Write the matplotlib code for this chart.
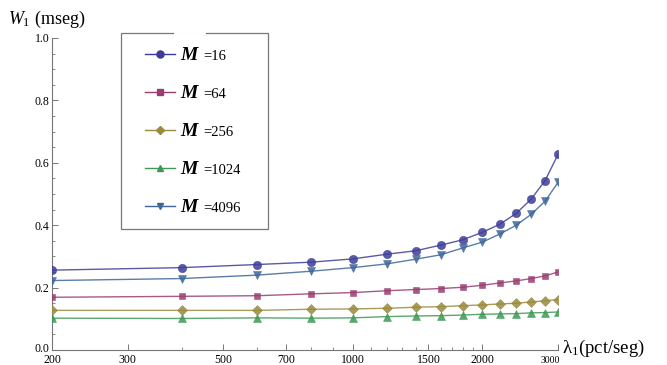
import matplotlib
matplotlib.use("Agg")
import matplotlib.pyplot as plt
import matplotlib.transforms as mtransforms
from matplotlib.lines import Line2D
from matplotlib.patches import Rectangle
from matplotlib.ticker import FixedLocator, NullFormatter

plt.rcParams["font.family"] = ["Liberation Serif", "DejaVu Serif"]
plt.rcParams["mathtext.fontset"] = "custom"
plt.rcParams["mathtext.rm"] = "Liberation Serif"
plt.rcParams["mathtext.it"] = "Liberation Serif:italic"
plt.rcParams["mathtext.bf"] = "Liberation Serif:bold"

# arrival rate (pct/seg)
lam = [200, 400, 600, 800, 1000, 1200, 1400, 1600, 1800, 2000,
       2200, 2400, 2600, 2800, 3000]

# mean waiting time W1 (mseg) for each buffer size M
w_m16 = [0.256, 0.264, 0.274, 0.2815, 0.292, 0.307, 0.318, 0.336, 0.353,
         0.377, 0.4035, 0.438, 0.484, 0.543, 0.627]
w_m64 = [0.169, 0.172, 0.174, 0.180, 0.184, 0.190, 0.1937, 0.197, 0.201,
         0.2076, 0.215, 0.2215, 0.229, 0.2376, 0.250]
w_m256 = [0.127, 0.127, 0.127, 0.1306, 0.1316, 0.1338, 0.137, 0.139, 0.142,
          0.1445, 0.1477, 0.150, 0.154, 0.158, 0.1615]
w_m1024 = [0.102, 0.101, 0.103, 0.102, 0.103, 0.107, 0.109, 0.110, 0.112,
           0.1145, 0.1156, 0.1166, 0.119, 0.120, 0.122]
w_m4096 = [0.2226, 0.229, 0.240, 0.2525, 0.264, 0.276, 0.291, 0.305, 0.327,
           0.3456, 0.372, 0.400, 0.435, 0.477, 0.537]

labels = ["16", "64", "256", "1024", "4096"]

x_major = [200, 300, 500, 700, 1000, 1500, 2000, 3000]
x_minor = [400, 600, 800, 900, 1100, 1200, 1300, 1400, 1600, 1700, 1800, 1900]
y_major = [0.0, 0.2, 0.4, 0.6, 0.8, 1.0]

series = [w_m16, w_m64, w_m256, w_m1024, w_m4096]
colors = ["#3d3d99", "#993d71", "#998b3d", "#3d9954", "#3d6699"]
markers = ["o", "s", "D", "^", "v"]
msizes = [6.0, 5.0, 4.6, 5.2, 5.2]

W, H = 667, 365
fig = plt.figure(figsize=(W / 100, H / 100), dpi=100)
ax = fig.add_axes([52 / W, (H - 350) / H, 506 / W, 312 / H])

for ys, c, m, ms in zip(series, colors, markers, msizes):
    ax.plot(lam, ys, color=c, lw=1.0, alpha=0.85, marker=m, ms=ms,
            markerfacecolor=c, markeredgecolor=c, markeredgewidth=0.4,
            clip_on=True, zorder=3)

ax.set_xscale("log")
ax.set_xlim(200, 3000)
ax.set_ylim(0, 1)

ax.xaxis.set_major_locator(FixedLocator(x_major))
ax.xaxis.set_minor_locator(FixedLocator(x_minor))
ax.xaxis.set_minor_formatter(NullFormatter())
ax.set_xticklabels([str(v) for v in x_major])
ax.set_yticks(y_major)
ax.set_yticks([0.05 * i for i in range(21)], minor=True)
ax.set_yticklabels([f"{v:.1f}" for v in y_major])

for side in ("top", "right"):
    ax.spines[side].set_visible(False)
for side in ("left", "bottom"):
    ax.spines[side].set_color("#777777")
    ax.spines[side].set_linewidth(0.8)

ax.tick_params(which="major", direction="in", length=4, width=0.7,
               color="#777777", labelsize=8.5)
ax.tick_params(axis="x", which="major", pad=3)
ax.tick_params(axis="y", which="major", pad=2)
ax.tick_params(which="minor", direction="in", length=2, width=0.6,
               color="#777777")

# the last x label sits small and tucked left, under the axis end
last = ax.get_xticklabels()[-1]
last.set_fontsize(7)
last.set_horizontalalignment("right")
last.set_transform(last.get_transform() +
                   mtransforms.ScaledTranslation(0.02, -0.02, fig.dpi_scale_trans))
# the origin label on y is lifted slightly above the x labels
first_y = ax.get_yticklabels()[0]
first_y.set_transform(first_y.get_transform() +
                      mtransforms.ScaledTranslation(0, 0.03, fig.dpi_scale_trans))

# axis titles
fig.text(8 / W, 1 - 24 / H, r"$W_1$ (mseg)", fontsize=13,
         ha="left", va="baseline")
fig.text(562 / W, 1 - 353 / H, r"λ$_1$(pct/seg)", fontsize=13.5,
         ha="left", va="baseline")

# legend box
fx = lambda px: px / W
fy = lambda py: 1 - py / H
box = Rectangle((fx(121), fy(229)), fx(268) - fx(121), fy(33) - fy(229),
                transform=fig.transFigure, facecolor="white",
                edgecolor="#777777", lw=0.9, zorder=5)
fig.add_artist(box)
fig.add_artist(Line2D([fx(175), fx(204)], [fy(33), fy(33)],
                      transform=fig.transFigure, color="white", lw=2.0,
                      zorder=6))

entry_y = [54, 92, 130, 168, 206]
for lab, c, m, ms, py in zip(labels, colors, markers, msizes, entry_y):
    fig.add_artist(Line2D([fx(145), fx(175)], [fy(py), fy(py)],
                          transform=fig.transFigure, color=c, lw=1.0,
                          zorder=7))
    fig.add_artist(Line2D([fx(160)], [fy(py)], transform=fig.transFigure,
                          color=c, marker=m, ms=ms * 0.85, lw=0, zorder=8))
    fig.text(fx(180), fy(py + 6), "M", fontsize=14, fontweight="bold",
             fontstyle="italic", ha="left", va="baseline", zorder=8)
    fig.text(fx(203), fy(py + 6), "=" + lab, fontsize=10.5,
             ha="left", va="baseline", zorder=8)

fig.savefig("out.png", dpi=100)
